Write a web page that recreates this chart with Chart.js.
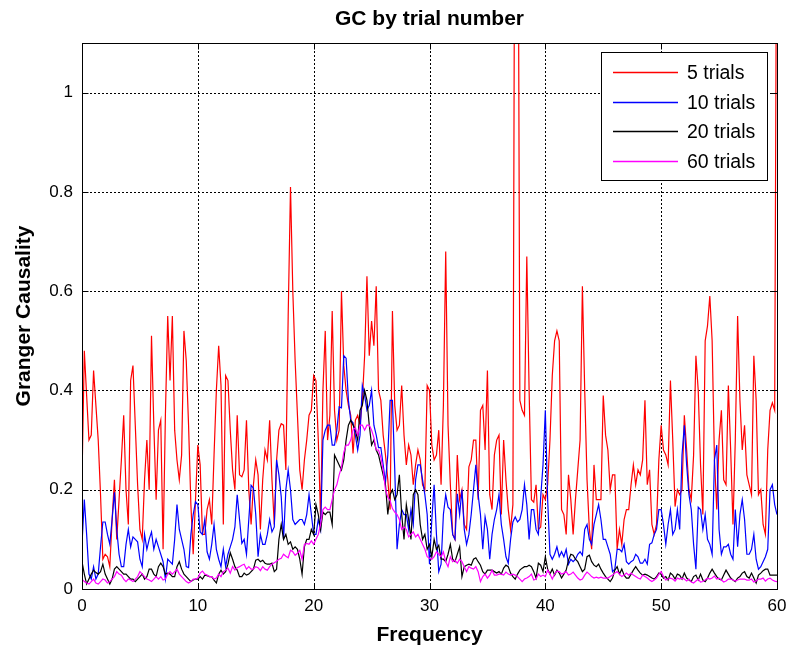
<!DOCTYPE html>
<html>
<head>
<meta charset="utf-8">
<script src="https://cdn.jsdelivr.net/npm/chart.js@4.4.0/dist/chart.umd.min.js"></script>
<style>
  html, body { margin: 0; padding: 0; background: #fff; }
  #c { display: block; }
</style>
</head>
<body>
<canvas id="c" width="790" height="648"></canvas>
<script>
// Spectral Granger causality, 0–60 Hz in 0.2 Hz bins
const freqStep = 0.2;
const xTicks = [0, 10, 20, 30, 40, 50, 60];
const yTicks = [0, 0.2, 0.4, 0.6, 0.8, 1];
const seriesLabels = ['5 trials', '10 trials', '20 trials', '60 trials'];

const gc5 = [
  0.22, 0.48, 0.39, 0.30, 0.31, 0.44, 0.37, 0.30, 0.19, 0.06,
  0.07, 0.065, 0.045, 0.14, 0.22, 0.10, 0.18, 0.26, 0.35, 0.20,
  0.13, 0.42, 0.45, 0.33, 0.21, 0.12, 0.10, 0.22, 0.30, 0.20,
  0.51, 0.33, 0.18, 0.32, 0.34, 0.08, 0.35, 0.55, 0.42, 0.55,
  0.32, 0.26, 0.22, 0.27, 0.52, 0.46, 0.33, 0.17, 0.07, 0.18,
  0.29, 0.25, 0.11, 0.11, 0.16, 0.18, 0.13, 0.27, 0.40, 0.49,
  0.41, 0.13, 0.43, 0.42, 0.32, 0.24, 0.20, 0.35, 0.23, 0.226,
  0.24, 0.34, 0.20, 0.13, 0.21, 0.26, 0.23, 0.12, 0.22, 0.28,
  0.26, 0.34, 0.22, 0.13, 0.26, 0.32, 0.333, 0.33, 0.24, 0.55,
  0.81, 0.60, 0.46, 0.35, 0.24, 0.20, 0.26, 0.30, 0.35, 0.36,
  0.43, 0.42, 0.30, 0.14, 0.40, 0.52, 0.30, 0.35, 0.56, 0.36,
  0.30, 0.32, 0.60, 0.45, 0.40, 0.37, 0.35, 0.273, 0.34, 0.35,
  0.33, 0.38, 0.47, 0.63, 0.47, 0.54, 0.49, 0.61, 0.40, 0.38,
  0.31, 0.27, 0.22, 0.16, 0.56, 0.37, 0.32, 0.33, 0.41, 0.31,
  0.25, 0.29, 0.27, 0.21, 0.25, 0.28, 0.26, 0.21, 0.20, 0.41,
  0.40, 0.29, 0.26, 0.27, 0.32, 0.21, 0.37, 0.68, 0.33, 0.21,
  0.11, 0.10, 0.27, 0.18, 0.20, 0.13, 0.12, 0.246, 0.26, 0.30,
  0.30, 0.18, 0.36, 0.37, 0.28, 0.44, 0.19, 0.16, 0.27, 0.30,
  0.31, 0.15, 0.30, 0.22, 0.16, 0.12, 0.17, 1.8, 1.8, 0.38,
  0.36, 0.35, 0.67, 0.40, 0.18, 0.175, 0.21, 0.12, 0.125, 0.19,
  0.18, 0.21, 0.30, 0.43, 0.50, 0.52, 0.50, 0.16, 0.15, 0.11,
  0.23, 0.18, 0.11, 0.18, 0.24, 0.30, 0.61, 0.40, 0.22, 0.12,
  0.08, 0.25, 0.18, 0.18, 0.18, 0.39, 0.31, 0.28, 0.20, 0.23,
  0.23, 0.08, 0.12, 0.09, 0.14, 0.16, 0.16, 0.21, 0.25, 0.21,
  0.24, 0.23, 0.26, 0.38, 0.21, 0.24, 0.13, 0.11, 0.13, 0.26,
  0.33, 0.28, 0.27, 0.25, 0.42, 0.30, 0.166, 0.20, 0.19, 0.20,
  0.35, 0.28, 0.20, 0.18, 0.27, 0.47, 0.40, 0.25, 0.15, 0.50,
  0.53, 0.59, 0.50, 0.26, 0.16, 0.30, 0.36, 0.22, 0.21, 0.41,
  0.28, 0.13, 0.30, 0.55, 0.38, 0.28, 0.33, 0.23, 0.21, 0.19,
  0.47, 0.38, 0.19, 0.20, 0.13, 0.11, 0.28, 0.36, 0.375, 0.36,
  1.6
];

const gc10 = [
  0.09, 0.18, 0.11, 0.03, 0.02, 0.045, 0.02, 0.03, 0.085, 0.135,
  0.135, 0.11, 0.09, 0.14, 0.195, 0.12, 0.07, 0.045, 0.045, 0.09,
  0.12, 0.085, 0.105, 0.10, 0.095, 0.06, 0.045, 0.11, 0.08, 0.10,
  0.115, 0.08, 0.10, 0.085, 0.07, 0.055, 0.02, 0.06, 0.055, 0.05,
  0.10, 0.17, 0.12, 0.10, 0.08, 0.045, 0.043, 0.11, 0.15, 0.176,
  0.17, 0.115, 0.11, 0.14, 0.075, 0.06, 0.09, 0.13, 0.08, 0.06,
  0.045, 0.08, 0.045, 0.07, 0.085, 0.10, 0.125, 0.19, 0.14, 0.092,
  0.10, 0.07, 0.14, 0.209, 0.203, 0.15, 0.065, 0.11, 0.09, 0.09,
  0.11, 0.14, 0.115, 0.125, 0.26, 0.23, 0.186, 0.10, 0.20, 0.24,
  0.20, 0.14, 0.13, 0.135, 0.14, 0.14, 0.13, 0.15, 0.19, 0.15,
  0.11, 0.11, 0.14, 0.12, 0.30, 0.32, 0.33, 0.33, 0.29, 0.29,
  0.32, 0.367, 0.365, 0.47, 0.465, 0.38, 0.34, 0.335, 0.31, 0.28,
  0.31, 0.41, 0.39, 0.36, 0.37, 0.40, 0.33, 0.31, 0.285, 0.285,
  0.25, 0.215, 0.27, 0.38, 0.38, 0.24, 0.08, 0.13, 0.16, 0.15,
  0.15, 0.12, 0.16, 0.13, 0.22, 0.25, 0.25, 0.22, 0.19, 0.15,
  0.05, 0.14, 0.21, 0.11, 0.035, 0.05, 0.15, 0.19, 0.165, 0.16,
  0.11, 0.10, 0.192, 0.15, 0.20, 0.12, 0.09, 0.11, 0.15, 0.20,
  0.25, 0.19, 0.15, 0.08, 0.145, 0.12, 0.06, 0.11, 0.14, 0.16,
  0.19, 0.13, 0.10, 0.065, 0.052, 0.10, 0.135, 0.145, 0.135, 0.14,
  0.16, 0.21, 0.17, 0.10, 0.16, 0.16, 0.12, 0.11, 0.185, 0.25,
  0.36, 0.18, 0.07, 0.06, 0.07, 0.085, 0.065, 0.075, 0.065, 0.08,
  0.05, 0.06, 0.055, 0.06, 0.07, 0.075, 0.068, 0.12, 0.13, 0.10,
  0.09, 0.13, 0.15, 0.17, 0.14, 0.10, 0.10, 0.085, 0.07, 0.035,
  0.04, 0.08, 0.08, 0.075, 0.09, 0.055, 0.05, 0.055, 0.058, 0.07,
  0.065, 0.052, 0.052, 0.06, 0.05, 0.09, 0.093, 0.11, 0.12, 0.16,
  0.16, 0.13, 0.09, 0.13, 0.16, 0.11, 0.12, 0.16, 0.12, 0.27,
  0.33, 0.25, 0.19, 0.16, 0.09, 0.04, 0.165, 0.16, 0.12, 0.15,
  0.10, 0.09, 0.07, 0.26, 0.29, 0.12, 0.07, 0.085, 0.085, 0.09,
  0.07, 0.06, 0.16, 0.085, 0.15, 0.18, 0.14, 0.07, 0.07, 0.08,
  0.11, 0.06, 0.04, 0.045, 0.055, 0.065, 0.08, 0.20, 0.21, 0.17,
  0.15
];

const gc20 = [
  0.055, 0.03, 0.01, 0.02, 0.03, 0.038, 0.033, 0.03, 0.035, 0.05,
  0.03, 0.02, 0.01, 0.02, 0.04, 0.045, 0.04, 0.035, 0.03, 0.03,
  0.025, 0.02, 0.02, 0.015, 0.02, 0.025, 0.03, 0.02, 0.025, 0.04,
  0.04, 0.03, 0.025, 0.045, 0.052, 0.045, 0.03, 0.032, 0.03, 0.025,
  0.025, 0.045, 0.055, 0.04, 0.03, 0.025, 0.02, 0.015, 0.018, 0.02,
  0.02, 0.025, 0.02, 0.028, 0.027, 0.025, 0.025, 0.018, 0.012, 0.03,
  0.038, 0.03, 0.035, 0.05, 0.073, 0.06, 0.045, 0.038, 0.025, 0.025,
  0.032, 0.028, 0.03, 0.035, 0.04, 0.058, 0.06, 0.055, 0.058, 0.052,
  0.05, 0.05, 0.052, 0.035, 0.04, 0.10, 0.13, 0.10, 0.11, 0.09,
  0.095, 0.08, 0.085, 0.08, 0.06, 0.03, 0.085, 0.10, 0.10, 0.12,
  0.11, 0.17, 0.15, 0.12, 0.155, 0.15, 0.155, 0.155, 0.13, 0.27,
  0.26, 0.25, 0.24, 0.26, 0.30, 0.33, 0.34, 0.33, 0.32, 0.30,
  0.36, 0.37, 0.40, 0.38, 0.33, 0.29, 0.30, 0.28, 0.27, 0.25,
  0.23, 0.21, 0.15, 0.19, 0.20, 0.18, 0.19, 0.23, 0.15, 0.10,
  0.17, 0.14, 0.10, 0.19, 0.20, 0.19, 0.13, 0.10, 0.11, 0.08,
  0.09, 0.065, 0.10, 0.08, 0.088, 0.06, 0.06, 0.055, 0.07, 0.09,
  0.06, 0.055, 0.07, 0.085, 0.025, 0.045, 0.048, 0.05, 0.048, 0.06,
  0.063, 0.055, 0.048, 0.035, 0.03, 0.038, 0.038, 0.038, 0.035, 0.032,
  0.035, 0.03, 0.042, 0.048, 0.045, 0.032, 0.025, 0.02, 0.03, 0.038,
  0.042, 0.045, 0.045, 0.048, 0.045, 0.035, 0.022, 0.052, 0.048, 0.035,
  0.065, 0.04, 0.03, 0.04, 0.028, 0.038, 0.032, 0.022, 0.03, 0.038,
  0.058, 0.07, 0.068, 0.06, 0.055, 0.045, 0.035, 0.04, 0.065, 0.068,
  0.055, 0.048, 0.045, 0.05, 0.04, 0.032, 0.025, 0.02, 0.015, 0.022,
  0.038, 0.045, 0.03, 0.04, 0.028, 0.022, 0.022, 0.03, 0.038, 0.045,
  0.038, 0.032, 0.028, 0.03, 0.028, 0.025, 0.022, 0.02, 0.025, 0.032,
  0.03, 0.022, 0.025, 0.018, 0.032, 0.028, 0.02, 0.03, 0.028, 0.02,
  0.032, 0.022, 0.018, 0.015, 0.025, 0.028, 0.018, 0.03, 0.018, 0.015,
  0.022, 0.032, 0.04, 0.032, 0.025, 0.02, 0.018, 0.028, 0.038, 0.03,
  0.022, 0.018, 0.015, 0.022, 0.025, 0.032, 0.035, 0.025, 0.022, 0.032,
  0.022, 0.012, 0.028, 0.032, 0.037, 0.04, 0.04, 0.028, 0.028, 0.028,
  0.028
];

const gc60 = [
  0.02, 0.015, 0.012, 0.01, 0.015, 0.02, 0.012, 0.01, 0.015, 0.02,
  0.018, 0.012, 0.015, 0.02, 0.025, 0.035, 0.03, 0.028, 0.02, 0.015,
  0.02, 0.018, 0.015, 0.02, 0.025, 0.035, 0.03, 0.025, 0.02, 0.018,
  0.015, 0.02, 0.025, 0.02, 0.025, 0.018, 0.02, 0.03, 0.035, 0.03,
  0.035, 0.04, 0.03, 0.025, 0.02, 0.015, 0.012, 0.015, 0.02, 0.02,
  0.022, 0.032, 0.036, 0.03, 0.028, 0.025, 0.025, 0.02, 0.022, 0.03,
  0.025, 0.035, 0.038, 0.042, 0.032, 0.045, 0.038, 0.043, 0.045, 0.048,
  0.05, 0.04, 0.045, 0.04, 0.04, 0.045, 0.043, 0.037, 0.045, 0.04,
  0.038, 0.045, 0.05, 0.053, 0.056, 0.06, 0.062, 0.07, 0.066, 0.063,
  0.078, 0.075, 0.068, 0.072, 0.078, 0.06, 0.09, 0.092, 0.09, 0.097,
  0.09, 0.10, 0.11, 0.13, 0.16, 0.165, 0.16, 0.16, 0.18, 0.20,
  0.21, 0.23, 0.245, 0.275, 0.29, 0.29, 0.30, 0.32, 0.325, 0.31,
  0.33, 0.33, 0.32, 0.33, 0.33, 0.32, 0.305, 0.28, 0.28, 0.265,
  0.24, 0.20, 0.185, 0.178, 0.162, 0.155, 0.15, 0.14, 0.12, 0.125,
  0.12, 0.105, 0.11, 0.115, 0.105, 0.11, 0.10, 0.09, 0.08, 0.065,
  0.062, 0.06, 0.065, 0.075, 0.07, 0.065, 0.075, 0.055, 0.045, 0.065,
  0.055, 0.058, 0.052, 0.06, 0.055, 0.045, 0.035, 0.045, 0.042, 0.04,
  0.045, 0.035, 0.015, 0.025, 0.03, 0.022, 0.028, 0.038, 0.028, 0.028,
  0.03, 0.03, 0.028, 0.034, 0.03, 0.028, 0.03, 0.028, 0.025, 0.02,
  0.015, 0.02, 0.022, 0.025, 0.03, 0.018, 0.02, 0.03, 0.025, 0.028,
  0.025, 0.038, 0.03, 0.02, 0.03, 0.036, 0.035, 0.03, 0.032, 0.035,
  0.028, 0.03, 0.034, 0.028, 0.022, 0.018, 0.02, 0.028, 0.034, 0.03,
  0.025, 0.022, 0.024, 0.022, 0.024, 0.022, 0.022, 0.022, 0.025, 0.028,
  0.032, 0.035, 0.03, 0.025, 0.028, 0.032, 0.028, 0.032, 0.028, 0.025,
  0.022, 0.02, 0.028, 0.025, 0.022, 0.018, 0.015, 0.018, 0.022, 0.03,
  0.035, 0.025, 0.018, 0.02, 0.022, 0.02, 0.016, 0.022, 0.02, 0.022,
  0.02, 0.016, 0.02, 0.014, 0.012, 0.016, 0.02, 0.014, 0.015, 0.018,
  0.022, 0.02, 0.022, 0.026, 0.02, 0.022, 0.018, 0.014, 0.016, 0.02,
  0.02, 0.018, 0.016, 0.018, 0.02, 0.02, 0.02, 0.018, 0.018, 0.02,
  0.014, 0.016, 0.02, 0.02, 0.022, 0.016, 0.02, 0.022, 0.018, 0.016,
  0.015
];

const seriesColors = ['#ff0000', '#0000ff', '#000000', '#ff00ff'];
const seriesValues = [gc5, gc10, gc20, gc60];

const FONT = "'Liberation Sans', Arial, Helvetica, sans-serif";

// frequency axis for each bin
const freqs = gc5.map((_, i) => Math.round(i * freqStep * 10) / 10);

// dotted grid under the traces; boxed axes, inward ticks, legend and labels on top
const axesDecor = {
  id: 'axesDecor',
  beforeDatasetsDraw(chart) {
    const { ctx, chartArea: a, scales: { x, y } } = chart;
    ctx.save();
    ctx.strokeStyle = '#000';
    ctx.lineWidth = 1;
    ctx.setLineDash([2, 2]);
    xTicks.forEach(v => {
      const px = Math.round(x.getPixelForValue(v)) + 0.5;
      ctx.beginPath(); ctx.moveTo(px, a.top); ctx.lineTo(px, a.bottom); ctx.stroke();
    });
    yTicks.forEach(v => {
      const py = Math.round(y.getPixelForValue(v)) + 0.5;
      ctx.beginPath(); ctx.moveTo(a.left, py); ctx.lineTo(a.right, py); ctx.stroke();
    });
    ctx.restore();
  },
  afterDraw(chart) {
    const { ctx, chartArea: a, scales: { x, y } } = chart;
    ctx.save();
    ctx.setLineDash([]);
    ctx.strokeStyle = '#000';
    ctx.lineWidth = 1;
    const L = Math.round(a.left) + 0.5, R = Math.round(a.right) + 0.5;
    const T = Math.round(a.top) + 0.5, B = Math.round(a.bottom) + 0.5;
    ctx.strokeRect(L, T, R - L, B - T);
    const tick = 6;
    ctx.beginPath();
    xTicks.forEach(v => {
      const px = Math.round(x.getPixelForValue(v)) + 0.5;
      ctx.moveTo(px, B); ctx.lineTo(px, B - tick);
      ctx.moveTo(px, T); ctx.lineTo(px, T + tick);
    });
    yTicks.forEach(v => {
      const py = Math.round(y.getPixelForValue(v)) + 0.5;
      ctx.moveTo(L, py); ctx.lineTo(L + tick, py);
      ctx.moveTo(R, py); ctx.lineTo(R - tick, py);
    });
    ctx.stroke();

    // legend
    const lx = 601.5, ly = 52.5, lw = 166, lh = 128;
    ctx.fillStyle = '#fff';
    ctx.fillRect(lx, ly, lw, lh);
    ctx.strokeRect(lx, ly, lw, lh);
    ctx.font = '19.5px ' + FONT;
    ctx.textAlign = 'left';
    ctx.textBaseline = 'middle';
    chart.data.datasets.forEach((ds, k) => {
      const ry = Math.round(72 + k * 29.5) + 0.5;
      ctx.strokeStyle = ds.borderColor;
      ctx.lineWidth = 1.3;
      ctx.beginPath(); ctx.moveTo(613, ry); ctx.lineTo(678, ry); ctx.stroke();
      ctx.fillStyle = '#000';
      ctx.fillText(ds.label, 687, ry + 1.5);
    });

    // title and axis labels
    ctx.fillStyle = '#000';
    ctx.font = 'bold 21px ' + FONT;
    ctx.textAlign = 'center';
    ctx.textBaseline = 'alphabetic';
    const cx = (a.left + a.right) / 2;
    ctx.fillText('GC by trial number', cx, 25);
    ctx.fillText('Frequency', cx, 641);
    ctx.save();
    ctx.translate(30, (a.top + a.bottom) / 2);
    ctx.rotate(-Math.PI / 2);
    ctx.fillText('Granger Causality', 0, 0);
    ctx.restore();
    ctx.restore();
  }
};

new Chart(document.getElementById('c'), {
  type: 'line',
  data: {
    datasets: seriesLabels.map((label, k) => ({
      label,
      data: seriesValues[k].map((v, i) => ({ x: freqs[i], y: v })),
      borderColor: seriesColors[k],
      backgroundColor: seriesColors[k],
      borderWidth: 1.2,
      pointRadius: 0,
      pointHoverRadius: 0,
      tension: 0,
      fill: false,
      clip: 0,
      order: seriesLabels.length - k
    }))
  },
  options: {
    responsive: false,
    animation: false,
    devicePixelRatio: 1,
    events: [],
    layout: { padding: { top: 43, right: 13, left: 0, bottom: 0 } },
    plugins: {
      legend: { display: false },
      title: { display: false },
      tooltip: { enabled: false }
    },
    scales: {
      x: {
        type: 'linear',
        min: 0,
        max: 60,
        afterFit: s => { s.height = 59; s.paddingLeft = 0; s.paddingRight = 0; },
        afterBuildTicks: s => { s.ticks = xTicks.map(v => ({ value: v })); },
        ticks: {
          color: '#000',
          font: { family: FONT, size: 17 },
          padding: 7,
          maxRotation: 0,
          autoSkip: false,
          callback: v => String(v)
        },
        grid: { display: false, drawTicks: false },
        border: { display: false }
      },
      y: {
        type: 'linear',
        min: 0,
        max: 1.1,
        afterFit: s => { s.width = 82; s.paddingTop = 0; s.paddingBottom = 0; },
        afterBuildTicks: s => { s.ticks = yTicks.map(v => ({ value: v })); },
        ticks: {
          color: '#000',
          font: { family: FONT, size: 17 },
          padding: 9,
          autoSkip: false,
          callback: v => String(v)
        },
        grid: { display: false, drawTicks: false },
        border: { display: false }
      }
    }
  },
  plugins: [axesDecor]
});
</script>
</body>
</html>
